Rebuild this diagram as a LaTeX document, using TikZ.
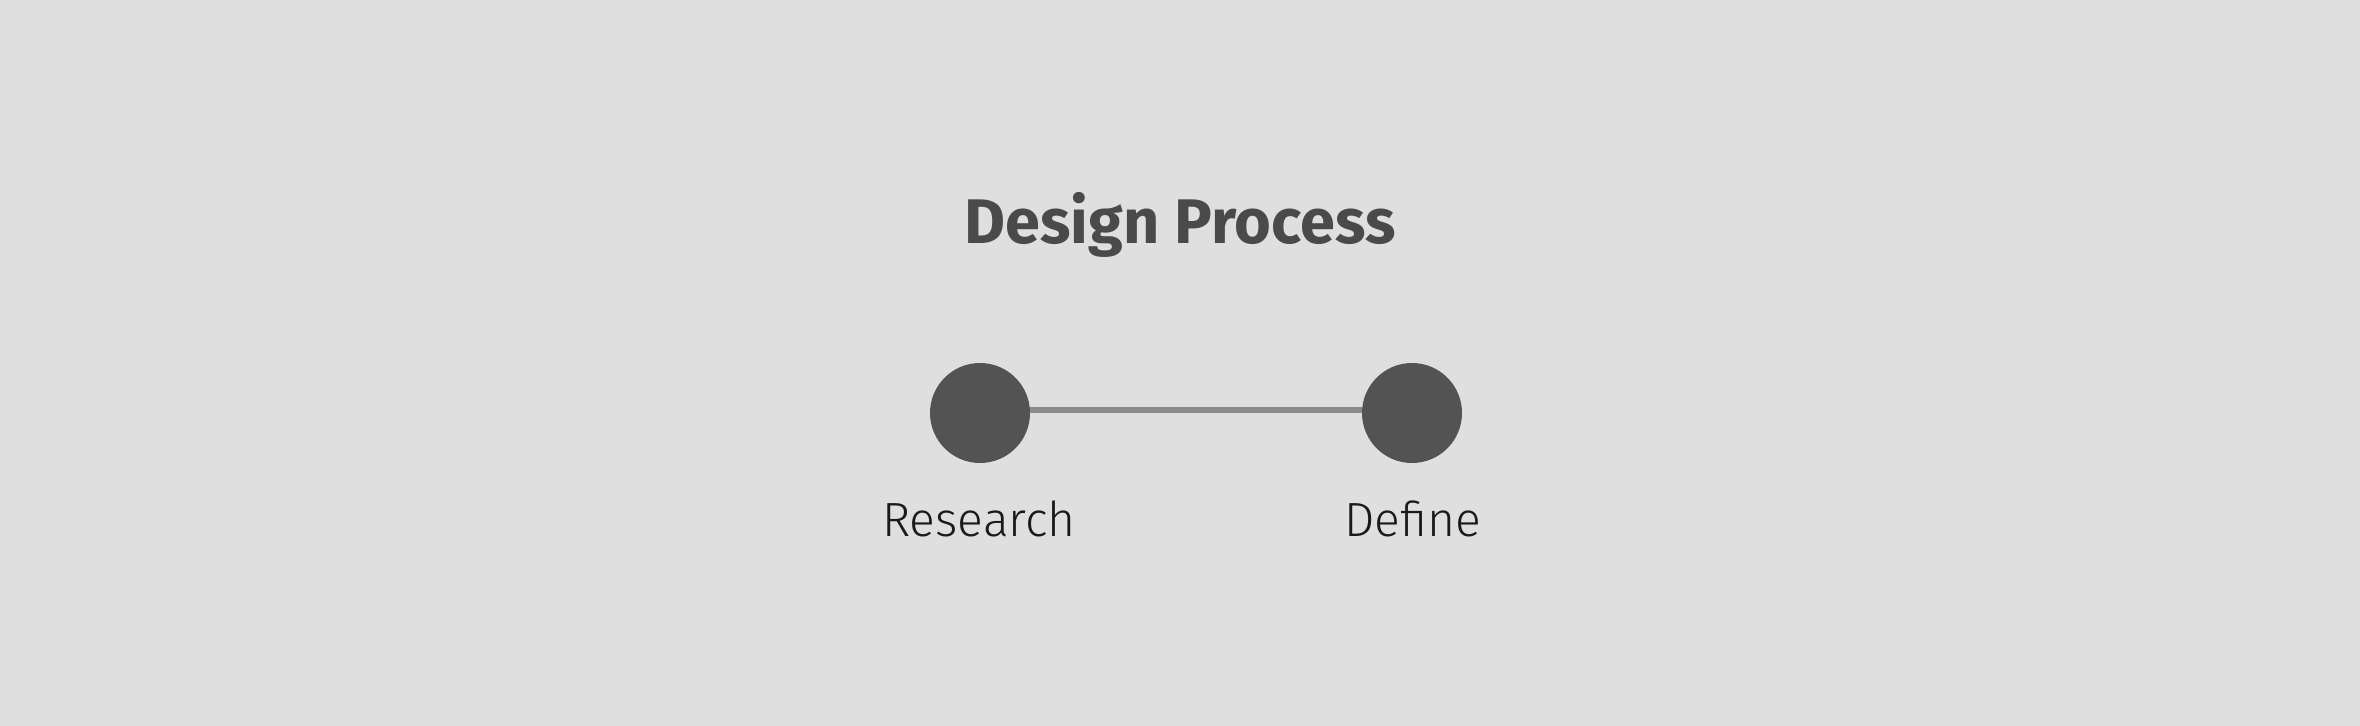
\documentclass[tikz,border=0pt]{standalone}
\usepackage{fontspec}
\setmainfont{Fira Sans}
\newfontfamily\titlefont{Fira Sans Bold}
\newfontfamily\lightfont{Fira Sans Light}
\definecolor{bg}{HTML}{DFDFDF}
\definecolor{dot}{HTML}{545353}
\definecolor{link}{HTML}{8A8A8A}
\definecolor{ttl}{HTML}{4A4A4A}
\definecolor{lbl}{HTML}{1A1A1A}
\begin{document}
\begin{tikzpicture}[x=0.5pt,y=-0.5pt,
  stage/.style={circle,fill=dot,minimum size=50pt,inner sep=0pt},
  label text/.style={text=lbl,font=\lightfont\fontsize{24}{28}\selectfont,anchor=base},
  connector/.style={draw=link,line width=3.2pt}]
\fill[bg] (0,0) rectangle (2360,726);
\useasboundingbox (0,0) rectangle (2360,726);
\node[text=ttl,font=\titlefont\fontsize{31.5}{38}\selectfont,anchor=base] (title) at (1180,244) {Design Process};
\node[stage] (research) at (980,413) {};
\node[stage] (define) at (1412,413) {};
\draw[connector] ([yshift=1.5pt]research.east) -- ([yshift=1.5pt]define.west);
\node[label text] (researchlbl) at (979,537) {Research};
\node[label text] (definelbl) at (1413,537) {Define};
\end{tikzpicture}
\end{document}
